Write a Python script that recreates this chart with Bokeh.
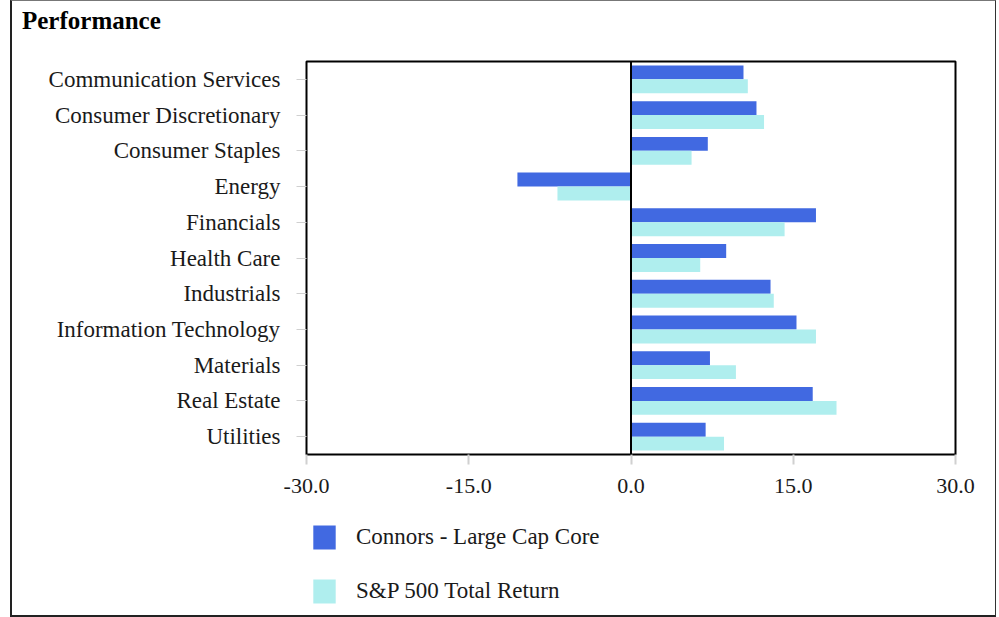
from bokeh.plotting import figure
from bokeh.layouts import column
from bokeh.models import (FactorRange, Span, Legend, LegendItem, FixedTicker,
                          NumeralTickFormatter, ColumnDataSource, Range1d, Div)
from bokeh.transform import dodge
from bokeh.embed import file_html
from bokeh.resources import INLINE

title_text = "Performance"
sectors = ["Communication Services", "Consumer Discretionary", "Consumer Staples",
           "Energy", "Financials", "Health Care", "Industrials",
           "Information Technology", "Materials", "Real Estate", "Utilities"]
connors = [10.4, 11.6, 7.1, -10.5, 17.1, 8.8, 12.9, 15.3, 7.3, 16.8, 6.9]
sp500 = [10.8, 12.3, 5.6, -6.8, 14.2, 6.4, 13.2, 17.1, 9.7, 19.0, 8.6]
x_ticks = [-30, -15, 0, 15, 30]
series_names = ["Connors - Large Cap Core", "S&P 500 Total Return"]
colors = ["#4169E1", "#AFEEEE"]

FONT = "Liberation Serif"
TXT = "#1a1a1a"

src = ColumnDataSource(dict(sector=sectors, connors=connors, sp500=sp500))

header = Div(text=title_text, width=300, height=39,
             styles={"font-family": FONT, "font-size": "25px", "font-weight": "bold",
                     "color": "black", "line-height": "30px",
                     "padding-left": "5px"})

p = figure(width=983, height=456, output_backend="svg", toolbar_location=None,
           title=None,
           y_range=FactorRange(*reversed(sectors)), x_range=Range1d(-30, 30),
           min_border_left=294, min_border_right=40, min_border_top=11,
           min_border_bottom=52)

r1 = p.hbar(y=dodge("sector", 0.195, range=p.y_range), right="connors", left=0,
            height=0.39, source=src, fill_color=colors[0], line_color=None)
r2 = p.hbar(y=dodge("sector", -0.195, range=p.y_range), right="sp500", left=0,
            height=0.39, source=src, fill_color=colors[1], line_color=None)

p.add_layout(Span(location=0, dimension="height", line_color="black", line_width=2))

p.outline_line_color = "black"
p.outline_line_width = 2
p.xgrid.grid_line_color = None
p.ygrid.grid_line_color = None

p.xaxis.ticker = FixedTicker(ticks=x_ticks)
p.xaxis.formatter = NumeralTickFormatter(format="0.0")
p.xaxis.axis_line_color = None
p.xaxis.major_tick_line_color = "#d0d0d0"
p.xaxis.major_tick_line_width = 2
p.xaxis.major_tick_out = 10
p.xaxis.major_tick_in = 0
p.xaxis.minor_tick_line_color = None
p.xaxis.major_label_standoff = 14
p.xaxis.major_label_text_font = FONT
p.xaxis.major_label_text_font_size = "22px"
p.xaxis.major_label_text_color = TXT

p.yaxis.axis_line_color = None
p.yaxis.major_tick_line_color = "#d0d0d0"
p.yaxis.major_tick_line_width = 1
p.yaxis.major_tick_out = 10
p.yaxis.major_tick_in = 0
p.yaxis.major_label_standoff = 16
p.yaxis.major_label_text_font = FONT
p.yaxis.major_label_text_font_size = "23px"
p.yaxis.major_label_text_color = TXT

# legend panel below the chart (its renderers stay hidden; only the legend shows)
lf = figure(width=983, height=109, output_backend="svg", toolbar_location=None,
            title=None, x_axis_location=None, y_axis_location=None, min_border=0,
            x_range=Range1d(-30, 30), y_range=FactorRange(*reversed(sectors)))
lf.outline_line_color = None
lf.xgrid.grid_line_color = None
lf.ygrid.grid_line_color = None
g1 = lf.hbar(y="sector", right="connors", left=0, height=0.39, source=src,
             fill_color=colors[0], line_color=None, visible=False)
g2 = lf.hbar(y="sector", right="sp500", left=0, height=0.39, source=src,
             fill_color=colors[1], line_color=None, visible=False)

legend = Legend(items=[LegendItem(label=series_names[0], renderers=[g1]),
                       LegendItem(label=series_names[1], renderers=[g2])],
                location=(4, 9), orientation="vertical",
                glyph_width=28, glyph_height=30, spacing=24,
                label_text_font=FONT, label_text_font_size="23px",
                label_text_color=TXT, label_standoff=18,
                border_line_color=None, background_fill_alpha=0,
                inactive_fill_alpha=0, click_policy="none",
                padding=0, margin=0)
lf.add_layout(legend)

layout = column(header, p, lf, spacing=0,
                styles={"margin-left": "10px",
                        "border-left": "2px solid #222",
                        "border-right": "1px solid #333",
                        "border-top": "1px solid #777",
                        "border-bottom": "2px solid #222"})

open("out.html", "w").write(file_html(layout, INLINE))
